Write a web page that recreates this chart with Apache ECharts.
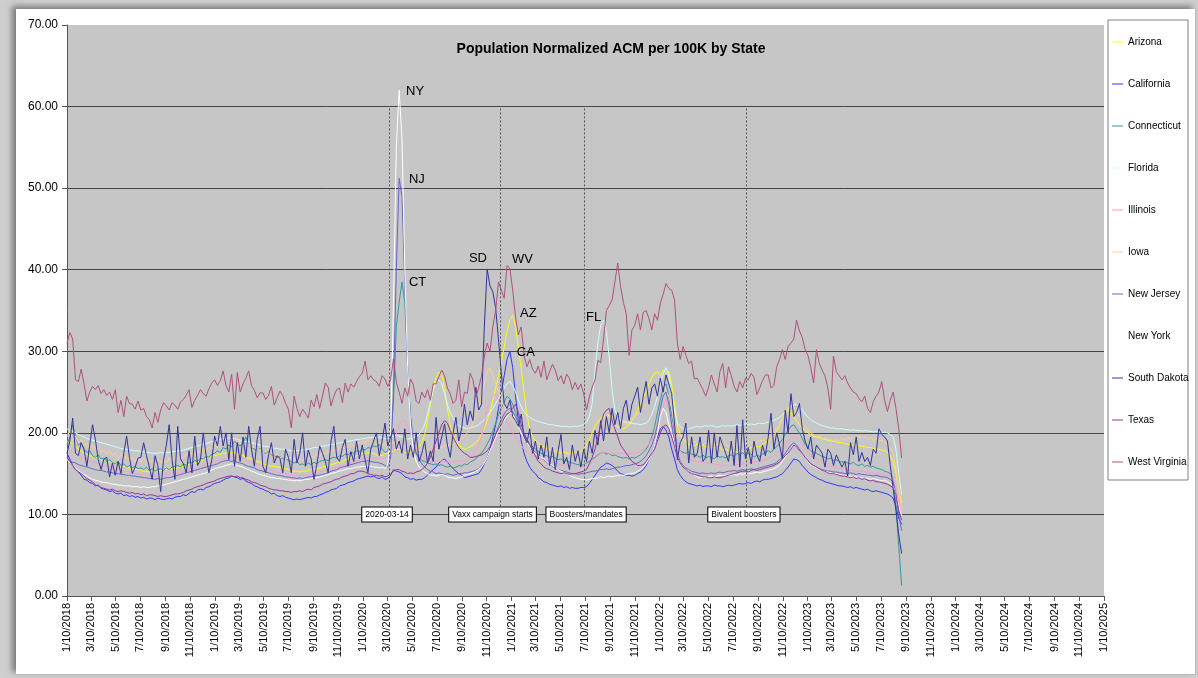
<!DOCTYPE html>
<html>
<head>
<meta charset="utf-8">
<script src="https://cdn.jsdelivr.net/npm/echarts@6/dist/echarts.min.js"></script>
<style>
  html, body { margin: 0; padding: 0; background: #cfcfcf; overflow: hidden; }
  #frame { position: absolute; left: 16px; top: 9px; width: 1179px; height: 665px; background: #fff;
           box-shadow: -4px -3px 6px #7a7a7a; border-right: 1px solid #bbb; border-bottom: 1px solid #bbb; }
  #chart { position: absolute; left: 0; top: 0; width: 1198px; height: 678px; }
</style>
</head>
<body>
<div id="frame"></div>
<div id="chart"></div>
<script>
// weekly samples, first one on 1/10/2018
const startDate = '2018-01-10';

const tickLabels = [
  '1/10/2018', '3/10/2018', '5/10/2018', '7/10/2018', '9/10/2018', '11/10/2018',
  '1/10/2019', '3/10/2019', '5/10/2019', '7/10/2019', '9/10/2019', '11/10/2019',
  '1/10/2020', '3/10/2020', '5/10/2020', '7/10/2020', '9/10/2020', '11/10/2020',
  '1/10/2021', '3/10/2021', '5/10/2021', '7/10/2021', '9/10/2021', '11/10/2021',
  '1/10/2022', '3/10/2022', '5/10/2022', '7/10/2022', '9/10/2022', '11/10/2022',
  '1/10/2023', '3/10/2023', '5/10/2023', '7/10/2023', '9/10/2023', '11/10/2023',
  '1/10/2024', '3/10/2024', '5/10/2024', '7/10/2024', '9/10/2024', '11/10/2024',
  '1/10/2025'
];

const states = ['Arizona', 'California', 'Connecticut', 'Florida', 'Illinois', 'Iowa',
  'New Jersey', 'New York', 'South Dakota', 'Texas', 'West Virginia'];
const colors = ['#ffff00', '#3333ff', '#339999', '#ccffff', '#ff99cc', '#ffcc99',
  '#6666cc', '#ffffff', '#333399', '#993399', '#b0507f'];

// event markers: label, date
const events = [
  ['2020-03-14', '2020-03-14'],
  ['Vaxx campaign starts', '2020-12-14'],
  ['Boosters/mandates', '2021-07-08'],
  ['Bivalent boosters', '2022-08-11']
];

// state tags: text, date, value
const tags = [
  ['NY', '2020-04-25', 61.8], ['NJ', '2020-05-02', 51.1], ['CT', '2020-05-02', 38.5],
  ['SD', '2020-09-27', 41.4], ['WV', '2021-01-11', 41.3], ['AZ', '2021-01-31', 34.6],
  ['CA', '2021-01-23', 29.8], ['FL', '2021-07-13', 34.1]
];

const arizona = [
  19.0, 18.8, 18.7, 18.4, 18.0, 17.8, 17.5, 17.4, 17.2, 17.1, 17.0, 16.9, 16.8,
  16.7, 16.6, 16.5, 16.4, 16.3, 16.2, 16.0, 15.9, 15.8, 15.7, 15.6, 15.5, 15.5,
  15.4, 15.3, 15.3, 15.2, 15.3, 15.3, 15.4, 15.4, 15.5, 15.5, 15.6, 15.6, 15.7,
  15.7, 15.8, 15.9, 16.0, 16.1, 16.2, 16.3, 16.4, 16.6, 16.7, 16.9, 17.0, 17.1,
  17.2, 17.3, 17.4, 17.5, 17.5, 17.6, 17.5, 17.6, 17.4, 17.3, 17.2, 17.0, 16.9,
  16.8, 16.6, 16.5, 16.4, 16.2, 16.1, 16.0, 15.9, 15.9, 15.8, 15.8, 15.7, 15.6,
  15.5, 15.4, 15.3, 15.3, 15.2, 15.3, 15.3, 15.4, 15.5, 15.5, 15.6, 15.7, 15.8,
  15.9, 16.0, 16.1, 16.2, 16.3, 16.4, 16.5, 16.7, 16.8, 17.0, 17.1, 17.2, 17.3,
  17.5, 17.5, 17.6, 17.4, 17.5, 17.3, 17.3, 17.2, 17.4, 17.5, 17.6, 17.8, 18.0,
  18.0, 17.8, 17.6, 17.5, 17.6, 17.8, 18.0, 18.3, 18.8, 19.8, 21.5, 23.5, 25.5,
  26.8, 27.5, 27.0, 25.5, 23.0, 21.0, 19.8, 19.0, 18.5, 18.2, 18.0, 18.1, 18.3,
  18.5, 18.8, 19.2, 19.8, 20.5, 21.5, 22.5, 24.0, 25.5, 27.0, 28.7, 30.5, 32.5,
  33.8, 34.4, 33.0, 30.5, 27.9, 25.0, 22.2, 20.5, 19.5, 19.0, 18.7, 18.5, 18.3,
  18.1, 18.0, 17.8, 17.7, 17.6, 17.5, 17.6, 17.5, 17.4, 17.5, 17.6, 17.5, 17.7,
  18.0, 18.5, 19.2, 20.0, 20.8, 21.3, 21.8, 22.0, 21.8, 22.2, 21.5, 21.0, 20.8,
  20.6, 20.5, 20.7, 21.0, 21.5, 22.0, 22.8, 23.5, 24.3, 25.0, 26.0, 26.8, 27.3,
  27.5, 27.0, 27.7, 27.3, 27.5, 26.0, 23.5, 21.0, 19.8, 19.2, 18.8, 18.6, 18.5,
  18.4, 18.6, 18.3, 18.5, 18.2, 18.4, 18.1, 18.3, 18.0, 18.2, 17.9, 18.0, 17.8,
  17.7, 17.8, 17.6, 17.8, 17.7, 17.9, 18.0, 18.2, 18.1, 18.4, 18.3, 18.6, 18.8,
  19.0, 19.3, 19.7, 20.2, 21.0, 21.8, 22.5, 22.8, 22.5, 22.0, 21.5, 21.0, 20.6,
  20.3, 20.0, 19.8, 19.6, 19.5, 19.4, 19.3, 19.2, 19.1, 19.0, 19.0, 18.9, 18.8,
  18.8, 18.7, 18.6, 18.6, 18.5, 18.5, 18.4, 18.4, 18.3, 18.2, 18.2, 18.1, 18.0,
  18.0, 17.9, 17.8, 17.6, 17.2, 16.5, 15.0, 13.0, 11.4
];
const california = [
  17.5, 16.8, 16.0, 15.5, 15.2, 14.8, 14.3, 14.2, 13.9, 13.8, 13.5, 13.6, 13.2,
  13.1, 13.0, 12.8, 12.9, 12.6, 12.5, 12.6, 12.3, 12.4, 12.2, 12.3, 12.1, 12.2,
  12.0, 12.1, 11.9, 12.0, 12.0, 11.8, 12.0, 11.9, 11.8, 11.9, 12.0, 11.9, 12.1,
  12.2, 12.2, 12.4, 12.3, 12.6, 12.8, 12.7, 13.0, 13.1, 13.0, 13.3, 13.4, 13.6,
  13.8, 13.9, 14.0, 14.2, 14.4, 14.5, 14.7, 14.6, 14.5, 14.3, 14.4, 14.1, 13.9,
  13.8, 13.5, 13.4, 13.2, 13.1, 12.9, 12.8, 12.5, 12.6, 12.3, 12.2, 12.3, 12.1,
  12.0, 11.9, 11.8, 11.9, 11.8, 11.9, 12.0, 12.1, 12.0, 12.2, 12.2, 12.4, 12.5,
  12.7, 12.8, 13.0, 13.1, 13.2, 13.5, 13.6, 13.7, 13.9, 14.0, 14.1, 14.3, 14.4,
  14.5, 14.6, 14.7, 14.6, 14.7, 14.5, 14.4, 14.6, 14.3, 14.4, 14.8, 15.5, 15.3,
  15.2, 15.0, 14.6, 14.5, 14.3, 14.4, 14.2, 14.3, 14.3, 14.5, 14.8, 15.2, 15.5,
  15.8, 16.3, 16.6, 16.8, 16.4, 16.0, 15.6, 15.3, 15.0, 14.8, 14.5, 14.6, 14.7,
  14.8, 14.9, 15.0, 15.5, 16.2, 17.0, 18.0, 19.5, 21.0, 23.0, 25.0, 27.0, 29.0,
  30.0, 28.0, 24.5, 21.5, 19.0, 17.5, 16.5, 15.8, 15.3, 15.0, 14.5, 14.3, 14.0,
  13.9, 13.7, 13.6, 13.5, 13.4, 13.5, 13.3, 13.4, 13.2, 13.3, 13.2, 13.2, 13.3,
  13.3, 13.4, 13.8, 14.3, 14.8, 15.3, 15.8, 16.0, 16.3, 16.2, 16.0, 15.7, 15.3,
  15.0, 14.9, 14.8, 14.8, 14.7, 14.8, 15.0, 15.2, 15.5, 16.0, 16.8, 17.5, 18.5,
  19.5, 20.5, 20.8, 20.3, 19.5, 18.0, 16.8, 15.5, 14.8, 14.3, 14.0, 13.8, 13.7,
  13.6, 13.5, 13.6, 13.4, 13.5, 13.5, 13.4, 13.6, 13.5, 13.5, 13.4, 13.5, 13.6,
  13.5, 13.6, 13.7, 13.8, 13.7, 13.8, 13.9, 13.8, 14.0, 14.1, 14.0, 14.2, 14.3,
  14.3, 14.4, 14.5, 14.6, 14.8, 15.0, 15.4, 15.8, 16.3, 16.8, 16.7, 16.5, 16.0,
  15.6, 15.2, 14.9, 14.7, 14.5, 14.3, 14.2, 14.0, 13.9, 13.8, 13.7, 13.6, 13.5,
  13.5, 13.4, 13.3, 13.4, 13.2, 13.3, 13.2, 13.1, 13.0, 13.1, 12.9, 12.8, 12.9,
  12.8, 12.7, 12.6, 12.5, 12.3, 12.0, 11.0, 9.5, 8.8
];
const connecticut = [
  18.5, 19.5, 21.0, 19.5, 18.5, 18.8, 18.0, 17.6, 17.8, 17.2, 17.0, 17.3, 16.8,
  16.9, 16.5, 16.7, 16.4, 16.2, 16.5, 16.0, 16.2, 15.8, 16.0, 15.7, 15.9, 15.6,
  15.7, 15.5, 15.8, 15.4, 15.6, 15.3, 15.5, 15.6, 15.4, 15.7, 15.5, 15.8, 15.9,
  16.0, 15.8, 16.2, 16.0, 16.4, 16.3, 16.6, 16.5, 16.9, 16.8, 17.1, 17.0, 17.4,
  17.5, 17.8, 17.6, 18.2, 18.0, 18.5, 18.3, 19.0, 18.6, 18.4, 18.8, 19.5, 18.5,
  18.2, 18.0, 17.8, 18.1, 17.6, 17.5, 17.7, 17.3, 17.2, 17.0, 17.1, 16.8, 16.9,
  16.6, 16.5, 16.3, 16.5, 16.1, 16.2, 16.0, 16.3, 16.1, 16.4, 16.2, 16.5, 16.6,
  16.7, 16.6, 16.9, 17.0, 16.9, 17.2, 17.1, 17.4, 17.3, 17.6, 17.5, 17.8, 17.7,
  18.0, 17.9, 18.2, 18.1, 18.4, 18.3, 18.6, 18.0, 17.6, 17.8, 19.0, 24.0, 33.0,
  36.0, 38.5, 36.0, 28.0, 22.0, 19.0, 17.5, 17.0, 16.6, 16.5, 16.3, 16.2, 16.1,
  16.2, 16.0, 16.1, 15.9, 15.8, 15.9, 15.7, 15.8, 16.0, 15.9, 16.2, 16.1, 16.4,
  16.6, 16.8, 17.2, 17.5, 18.0, 18.6, 19.3, 20.2, 21.2, 22.2, 23.0, 23.8, 24.5,
  24.2, 23.5, 22.5, 21.5, 20.5, 19.8, 19.2, 18.7, 18.3, 18.0, 17.7, 17.5, 17.3,
  17.2, 17.0, 17.1, 16.9, 16.7, 16.8, 16.5, 16.6, 16.4, 16.3, 16.2, 16.1, 16.0,
  16.1, 16.3, 16.5, 16.8, 17.0, 17.3, 17.5, 17.6, 17.4, 17.5, 17.2, 17.3, 17.1,
  17.0, 16.9, 17.0, 16.8, 17.0, 16.9, 17.1, 17.3, 17.6, 18.0, 18.6, 19.5, 20.8,
  22.5, 24.0, 25.5, 26.0, 24.5, 22.0, 20.0, 18.5, 17.8, 17.6, 17.5, 17.7, 17.4,
  17.3, 17.2, 17.0, 17.3, 16.9, 17.1, 17.0, 16.8, 17.2, 17.0, 17.1, 16.9, 17.2,
  17.3, 17.1, 17.5, 17.3, 17.6, 17.2, 17.5, 17.4, 17.0, 17.3, 17.1, 17.4, 17.6,
  17.8, 17.6, 18.0, 18.3, 18.7, 19.2, 19.8, 20.3, 20.8, 21.0, 20.5, 20.0, 19.3,
  18.6, 18.2, 17.8, 17.6, 17.5, 17.3, 17.1, 17.0, 16.8, 16.9, 16.6, 16.7, 16.5,
  16.4, 16.5, 16.3, 16.2, 16.4, 16.1, 16.0, 16.2, 15.9, 16.0, 15.8, 15.9, 15.7,
  15.6, 15.5, 15.3, 15.2, 15.0, 14.5, 11.0, 6.0, 1.3
];
const florida = [
  20.5, 20.3, 20.2, 20.0, 19.8, 19.6, 19.5, 19.3, 19.2, 19.1, 19.0, 18.9, 18.8,
  18.7, 18.6, 18.5, 18.4, 18.3, 18.2, 18.1, 18.0, 18.0, 17.9, 17.9, 17.8, 17.8,
  17.7, 17.7, 17.6, 17.6, 17.5, 17.5, 17.5, 17.6, 17.5, 17.6, 17.6, 17.7, 17.7,
  17.8, 17.8, 17.9, 18.0, 18.1, 18.2, 18.3, 18.4, 18.5, 18.6, 18.7, 18.8, 18.9,
  19.0, 19.1, 19.2, 19.3, 19.3, 19.4, 19.3, 19.3, 19.2, 19.1, 19.0, 18.9, 18.9,
  18.8, 18.7, 18.6, 18.5, 18.4, 18.3, 18.3, 18.2, 18.1, 18.1, 18.0, 18.0, 17.9,
  17.9, 17.8, 17.8, 17.8, 17.9, 17.9, 18.0, 18.0, 18.1, 18.2, 18.2, 18.3, 18.4,
  18.4, 18.5, 18.6, 18.6, 18.7, 18.8, 18.8, 18.9, 19.0, 19.0, 19.1, 19.2, 19.2,
  19.3, 19.3, 19.4, 19.4, 19.5, 19.4, 19.5, 19.4, 19.3, 19.3, 19.4, 19.6, 19.7,
  19.6, 19.5, 19.3, 19.2, 19.3, 19.4, 19.5, 19.8, 20.3, 21.0, 22.3, 23.8, 25.2,
  26.2, 26.5, 26.0, 24.8, 23.5, 22.5, 21.8, 21.2, 20.9, 20.7, 20.6, 20.5, 20.6,
  20.7, 20.8, 21.0, 21.3, 21.6, 22.0, 22.5, 23.0, 23.6, 24.2, 24.8, 25.5, 26.0,
  26.3, 25.8, 25.0, 24.0, 23.2, 22.6, 22.2, 21.9, 21.7, 21.5, 21.4, 21.3, 21.2,
  21.1, 21.0, 21.0, 20.9, 20.9, 20.8, 20.8, 20.8, 20.7, 20.8, 20.8, 20.8, 20.9,
  21.0, 21.3, 22.0, 23.6, 27.7, 31.0, 33.2, 33.8, 32.4, 29.3, 25.3, 22.8, 22.0,
  21.6, 21.4, 21.3, 21.2, 21.2, 21.1, 21.1, 21.0, 21.1, 21.2, 21.5, 22.3, 23.2,
  24.5, 26.0, 27.2, 28.0, 27.0, 24.8, 22.8, 21.2, 20.8, 20.5, 20.4, 20.5, 20.6,
  20.7, 20.8, 20.7, 20.8, 20.9, 20.8, 20.9, 20.8, 20.7, 20.8, 20.9, 20.8, 20.9,
  20.8, 20.9, 21.0, 20.9, 21.0, 21.1, 21.0, 21.1, 21.0, 21.1, 21.2, 21.1, 21.2,
  21.3, 21.4, 21.5, 21.7, 21.9, 22.2, 22.6, 22.9, 23.2, 23.4, 23.5, 23.2, 22.8,
  22.3, 21.9, 21.6, 21.4, 21.2, 21.0, 20.9, 20.8, 20.7, 20.6, 20.6, 20.5, 20.5,
  20.5, 20.4, 20.4, 20.3, 20.4, 20.3, 20.3, 20.2, 20.3, 20.2, 20.2, 20.1, 20.2,
  20.1, 20.0, 20.1, 20.0, 19.8, 19.5, 18.0, 15.0, 12.4
];
const illinois = [
  18.0, 17.9, 17.7, 17.5, 17.3, 17.1, 16.9, 16.7, 16.6, 16.4, 16.3, 16.2, 16.1,
  16.0, 15.9, 15.8, 15.7, 15.6, 15.5, 15.4, 15.3, 15.3, 15.2, 15.1, 15.0, 15.0,
  14.9, 14.9, 14.8, 14.8, 14.8, 14.7, 14.8, 14.8, 14.8, 14.9, 14.9, 15.0, 15.0,
  15.1, 15.2, 15.2, 15.3, 15.4, 15.5, 15.6, 15.8, 15.9, 16.0, 16.2, 16.3, 16.4,
  16.5, 16.6, 16.7, 16.8, 16.9, 17.0, 17.0, 17.1, 17.0, 16.9, 16.8, 16.7, 16.5,
  16.4, 16.2, 16.1, 15.9, 15.8, 15.6, 15.5, 15.4, 15.3, 15.2, 15.1, 15.0, 15.0,
  14.9, 14.9, 14.8, 14.8, 14.8, 14.8, 14.8, 14.9, 14.9, 15.0, 15.1, 15.2, 15.3,
  15.4, 15.5, 15.6, 15.7, 15.8, 15.9, 16.0, 16.1, 16.2, 16.3, 16.4, 16.6, 16.7,
  16.8, 16.9, 17.0, 17.0, 16.9, 16.9, 16.8, 16.8, 16.9, 17.0, 17.5, 18.5, 19.8,
  21.0, 21.5, 21.5, 20.8, 20.0, 19.0, 18.0, 17.4, 17.0, 16.8, 16.6, 16.5, 16.5,
  16.4, 16.5, 16.6, 16.5, 16.4, 16.5, 16.4, 16.5, 16.6, 16.5, 16.6, 16.7, 16.9,
  17.2, 17.8, 18.5, 19.5, 21.0, 23.0, 24.0, 24.5, 24.8, 24.0, 23.0, 22.0, 21.3,
  20.7, 20.0, 19.5, 19.0, 18.5, 18.0, 17.7, 17.4, 17.2, 17.0, 16.9, 16.8, 16.7,
  16.6, 16.5, 16.4, 16.3, 16.2, 16.1, 16.0, 16.0, 15.9, 15.9, 15.8, 15.8, 15.8,
  15.8, 15.9, 16.1, 16.4, 16.8, 17.2, 17.5, 17.6, 17.6, 17.5, 17.5, 17.4, 17.5,
  17.5, 17.4, 17.5, 17.4, 17.5, 17.5, 17.6, 17.8, 18.0, 18.3, 18.6, 19.2, 20.0,
  21.0, 22.5, 23.5, 24.0, 23.0, 21.5, 19.5, 18.5, 17.8, 17.2, 17.0, 16.8, 16.7,
  16.6, 16.5, 16.5, 16.4, 16.3, 16.3, 16.2, 16.2, 16.1, 16.1, 16.0, 16.0, 16.0,
  16.0, 16.1, 16.1, 16.2, 16.2, 16.3, 16.3, 16.4, 16.4, 16.5, 16.5, 16.6, 16.7,
  16.8, 17.0, 17.2, 17.5, 17.8, 18.2, 18.7, 19.0, 19.4, 19.6, 19.4, 19.0, 18.5,
  18.0, 17.6, 17.2, 17.0, 16.7, 16.5, 16.3, 16.1, 16.0, 15.9, 15.8, 15.7, 15.6,
  15.6, 15.5, 15.5, 15.4, 15.4, 15.3, 15.3, 15.3, 15.2, 15.2, 15.1, 15.1, 15.0,
  15.0, 15.0, 14.9, 14.8, 14.7, 14.5, 13.0, 11.5, 10.0
];
const iowa = [
  19.5, 20.3, 19.0, 19.6, 18.7, 19.2, 18.4, 18.8, 18.0, 18.5, 17.8, 18.2, 17.6,
  17.9, 17.4, 17.8, 17.2, 17.5, 16.9, 17.3, 16.8, 17.1, 16.6, 17.0, 16.5, 16.9,
  16.5, 16.8, 16.3, 16.7, 16.4, 16.2, 16.8, 16.4, 16.6, 16.3, 16.9, 16.6, 17.0,
  16.8, 17.2, 16.9, 17.4, 17.1, 17.6, 17.3, 17.8, 17.5, 18.1, 17.8, 18.3, 18.0,
  18.5, 18.3, 18.8, 18.6, 19.2, 18.8, 19.4, 19.0, 19.3, 18.7, 19.0, 18.4, 18.6,
  18.1, 18.3, 17.8, 18.0, 17.5, 17.8, 17.3, 17.6, 17.1, 17.4, 16.9, 17.2, 16.8,
  17.0, 16.6, 16.9, 16.4, 16.8, 16.5, 17.0, 16.7, 17.2, 16.9, 17.4, 17.1, 17.6,
  17.3, 17.8, 17.5, 18.0, 17.7, 18.3, 18.0, 18.5, 18.2, 18.7, 18.4, 18.9, 18.6,
  19.0, 18.7, 19.2, 18.8, 19.0, 18.6, 18.9, 18.5, 18.8, 18.4, 18.7, 18.9, 18.5,
  18.6, 18.2, 18.5, 18.0, 18.3, 17.9, 18.1, 17.8, 18.0, 17.7, 18.0, 17.8, 18.1,
  18.0, 18.3, 18.1, 18.5, 18.3, 18.7, 18.5, 18.9, 19.0, 19.3, 19.5, 20.0, 20.5,
  21.2, 22.0, 23.0, 24.5, 26.0, 27.5, 28.0, 27.0, 26.0, 25.0, 24.0, 23.2, 22.5,
  22.0, 21.5, 21.0, 20.5, 19.8, 19.3, 19.0, 18.7, 18.5, 18.6, 18.3, 18.4, 18.1,
  18.2, 17.9, 18.1, 17.8, 18.0, 17.6, 17.8, 17.5, 17.7, 17.4, 17.6, 17.5, 17.7,
  17.8, 18.2, 18.0, 18.6, 18.8, 19.2, 19.5, 19.9, 20.2, 20.0, 20.5, 20.8, 20.6,
  21.0, 21.3, 21.0, 21.5, 21.8, 22.0, 22.3, 22.6, 23.0, 23.4, 23.8, 24.3, 24.7,
  25.0, 25.5, 26.0, 25.2, 24.5, 23.0, 21.5, 20.0, 19.5, 19.2, 19.0, 19.3, 18.9,
  19.0, 18.6, 18.9, 18.5, 18.8, 18.4, 18.7, 18.3, 18.6, 18.4, 18.7, 18.5, 18.3,
  18.6, 18.4, 18.7, 18.5, 18.8, 18.6, 18.9, 18.7, 19.0, 18.8, 19.2, 19.0, 19.3,
  19.5, 19.8, 20.2, 20.6, 21.0, 21.8, 22.5, 23.0, 23.5, 23.2, 22.6, 22.0, 21.4,
  20.8, 20.4, 20.0, 19.8, 19.5, 19.6, 19.3, 19.4, 19.1, 19.3, 19.0, 19.2, 19.0,
  19.3, 19.1, 19.4, 19.2, 19.5, 19.3, 19.6, 19.4, 19.5, 19.2, 19.4, 19.1, 19.3,
  19.0, 19.1, 18.8, 18.5, 18.2, 17.5, 15.5, 13.0, 10.5
];
const newJersey = [
  16.8, 16.6, 16.4, 16.3, 16.1, 16.0, 15.9, 15.8, 15.7, 15.6, 15.5, 15.4, 15.4,
  15.3, 15.2, 15.2, 15.1, 15.0, 15.0, 14.9, 14.9, 14.8, 14.8, 14.7, 14.7, 14.6,
  14.6, 14.5, 14.5, 14.4, 14.4, 14.3, 14.4, 14.3, 14.4, 14.5, 14.5, 14.6, 14.7,
  14.8, 14.9, 15.0, 15.1, 15.2, 15.3, 15.4, 15.5, 15.6, 15.7, 15.8, 15.9, 16.0,
  16.1, 16.2, 16.4, 16.5, 16.6, 16.6, 16.5, 16.6, 16.4, 16.3, 16.2, 16.0, 15.9,
  15.8, 15.7, 15.5, 15.4, 15.3, 15.2, 15.1, 15.0, 14.9, 14.8, 14.8, 14.7, 14.6,
  14.6, 14.5, 14.5, 14.4, 14.5, 14.4, 14.5, 14.6, 14.6, 14.7, 14.8, 14.8, 14.9,
  15.0, 15.1, 15.3, 15.4, 15.5, 15.7, 15.8, 15.9, 16.0, 16.1, 16.2, 16.3, 16.4,
  16.5, 16.5, 16.6, 16.5, 16.4, 16.4, 16.3, 16.2, 16.0, 15.8, 17.0, 25.0, 40.0,
  51.2, 49.0, 38.0, 28.0, 22.0, 19.0, 17.5, 16.8, 16.2, 15.8, 15.5, 15.3, 15.2,
  15.0, 15.1, 15.0, 14.9, 15.0, 14.9, 14.8, 14.9, 15.0, 15.0, 15.1, 15.1, 15.2,
  15.3, 15.4, 15.6, 15.9, 16.3, 17.0, 17.8, 18.8, 19.8, 20.8, 21.6, 22.3, 22.8,
  23.0, 22.6, 22.0, 21.2, 20.3, 19.5, 19.0, 18.5, 18.0, 17.6, 17.3, 17.0, 16.7,
  16.4, 16.1, 15.9, 15.7, 15.5, 15.4, 15.3, 15.2, 15.1, 15.0, 15.0, 14.9, 15.0,
  15.0, 15.1, 15.2, 15.3, 15.3, 15.4, 15.5, 15.5, 15.6, 15.5, 15.6, 15.7, 15.8,
  15.8, 15.9, 16.0, 16.0, 16.1, 16.2, 16.3, 16.5, 16.8, 17.2, 17.8, 18.5, 19.5,
  21.0, 23.0, 24.5, 25.0, 23.5, 21.0, 18.8, 17.5, 16.5, 16.0, 15.7, 15.5, 15.3,
  15.2, 15.1, 15.0, 15.1, 15.0, 15.0, 15.1, 15.0, 15.1, 15.2, 15.1, 15.2, 15.3,
  15.3, 15.4, 15.3, 15.4, 15.5, 15.4, 15.5, 15.6, 15.5, 15.6, 15.7, 15.8, 15.9,
  16.0, 16.1, 16.2, 16.4, 16.7, 17.0, 17.5, 18.0, 18.5, 18.8, 18.5, 18.0, 17.5,
  17.0, 16.6, 16.2, 16.0, 15.8, 15.6, 15.5, 15.4, 15.3, 15.3, 15.2, 15.2, 15.1,
  15.1, 15.0, 15.0, 15.1, 15.0, 14.9, 15.0, 14.9, 14.9, 14.8, 14.8, 14.7, 14.8,
  14.7, 14.6, 14.6, 14.5, 14.3, 14.0, 12.5, 10.0, 8.0
];
const newYork = [
  16.7, 16.4, 16.0, 15.7, 15.4, 15.1, 14.9, 14.7, 14.5, 14.3, 14.2, 14.1, 14.0,
  13.9, 13.9, 13.8, 13.7, 13.7, 13.6, 13.6, 13.5, 13.5, 13.5, 13.4, 13.4, 13.4,
  13.3, 13.4, 13.3, 13.3, 13.4, 13.4, 13.5, 13.5, 13.6, 13.7, 13.8, 13.9, 14.0,
  14.1, 14.2, 14.3, 14.4, 14.5, 14.6, 14.7, 14.8, 14.9, 15.0, 15.1, 15.3, 15.4,
  15.6, 15.7, 15.8, 15.9, 16.0, 16.1, 16.2, 16.1, 16.0, 15.9, 15.8, 15.6, 15.5,
  15.3, 15.2, 15.0, 14.9, 14.8, 14.7, 14.6, 14.5, 14.5, 14.4, 14.4, 14.3, 14.3,
  14.2, 14.2, 14.1, 14.2, 14.1, 14.2, 14.3, 14.3, 14.4, 14.5, 14.5, 14.6, 14.7,
  14.8, 14.9, 15.0, 15.1, 15.2, 15.3, 15.4, 15.5, 15.6, 15.6, 15.7, 15.8, 15.8,
  15.9, 15.9, 16.0, 15.9, 15.8, 15.8, 15.7, 15.8, 15.6, 16.0, 20.0, 36.0, 55.0,
  62.0, 56.0, 40.0, 28.0, 21.0, 18.0, 16.5, 15.8, 15.5, 15.2, 15.0, 14.8, 14.8,
  14.7, 14.8, 14.9, 14.8, 14.6, 14.5, 14.5, 14.4, 14.5, 14.6, 14.8, 14.9, 15.0,
  15.1, 15.3, 15.5, 15.8, 16.3, 17.0, 17.8, 18.6, 19.5, 20.3, 21.0, 21.5, 22.0,
  22.5, 22.3, 21.5, 20.8, 20.0, 19.3, 18.8, 18.3, 17.8, 17.5, 17.2, 17.0, 16.8,
  16.5, 16.2, 16.0, 15.8, 15.5, 15.3, 15.1, 15.0, 14.8, 14.6, 14.5, 14.4, 14.3,
  14.3, 14.2, 14.3, 14.4, 14.4, 14.5, 14.6, 14.5, 14.6, 14.7, 14.6, 14.7, 14.8,
  14.8, 14.8, 14.9, 15.0, 15.0, 15.1, 15.3, 15.5, 15.8, 16.2, 16.8, 17.5, 18.5,
  20.0, 22.0, 23.0, 22.5, 21.0, 20.0, 18.5, 17.0, 16.3, 15.8, 15.5, 15.2, 15.0,
  14.8, 14.6, 14.5, 14.6, 14.5, 14.6, 14.7, 14.6, 14.7, 14.8, 14.7, 14.8, 14.8,
  14.8, 14.9, 14.8, 15.0, 14.9, 15.0, 15.1, 15.0, 15.1, 15.2, 15.1, 15.2, 15.3,
  15.4, 15.5, 15.6, 15.8, 16.0, 16.5, 17.0, 17.5, 18.0, 18.5, 18.3, 17.8, 17.5,
  17.0, 16.5, 16.1, 15.9, 15.7, 15.5, 15.4, 15.3, 15.2, 15.1, 15.0, 15.0, 14.9,
  14.8, 14.8, 14.7, 14.7, 14.6, 14.6, 14.5, 14.5, 14.4, 14.5, 14.3, 14.4, 14.3,
  14.2, 14.1, 14.2, 14.0, 13.8, 13.5, 12.5, 11.0, 9.8
];
const southDakota = [
  17.5, 19.0, 21.8, 17.5, 17.2, 18.8, 18.0, 15.9, 18.5, 21.0, 19.2, 16.7, 15.5,
  16.8, 17.0, 14.6, 16.3, 14.8, 16.5, 15.0, 17.5, 19.6, 17.0, 15.0, 15.8, 16.9,
  17.0, 18.8, 17.2, 15.8, 14.3, 17.2, 16.0, 12.8, 16.7, 18.5, 21.0, 16.7, 14.3,
  20.8, 16.8, 16.2, 15.1, 17.8, 15.1, 19.6, 16.0, 16.7, 20.0, 17.2, 15.1, 16.7,
  19.6, 18.4, 20.8, 18.4, 20.0, 16.7, 20.0, 15.9, 18.8, 16.5, 19.5, 17.0, 20.8,
  18.0, 15.9, 19.2, 20.8, 15.9, 15.1, 17.3, 18.8, 16.3, 17.2, 16.9, 15.1, 18.0,
  17.0, 15.1, 19.2, 16.3, 17.5, 20.0, 15.9, 17.9, 16.8, 14.3, 16.1, 18.4, 17.5,
  16.5, 15.1, 19.0, 20.8, 17.0, 16.5, 18.2, 19.2, 15.9, 17.7, 16.5, 19.0, 16.8,
  18.5, 16.7, 15.1, 18.0, 19.0, 20.0, 17.2, 19.0, 21.2, 18.4, 19.5, 20.5, 18.0,
  19.0, 17.5, 20.5, 16.8, 18.5, 17.0, 20.0, 16.5, 17.5, 19.0, 16.3, 17.8, 16.5,
  21.9, 18.0, 19.5, 21.1, 18.5, 17.0, 20.0, 21.9, 19.0, 20.5, 23.5, 21.0, 22.7,
  21.5, 25.6, 22.8, 23.5, 33.0, 40.1, 38.0, 37.3, 35.3, 31.4, 27.3, 23.6, 23.0,
  24.0, 22.0, 21.5, 20.8, 22.3, 19.5, 18.8, 20.5, 17.5, 19.0, 16.8, 18.5, 17.0,
  19.5, 16.0, 18.2, 15.5, 17.8, 19.8, 16.2, 17.0, 15.5, 18.5, 16.5, 17.8, 15.8,
  18.0, 16.5, 19.0, 17.5, 20.3, 18.5, 21.5, 19.0, 22.0, 20.0, 23.0, 21.0, 22.5,
  20.5, 23.0, 24.0, 21.5, 23.5, 24.5, 25.6, 22.5, 24.5, 26.3, 23.5, 25.5, 26.0,
  24.5, 26.7, 25.0, 27.1, 26.0, 24.8, 21.2, 16.7, 18.8, 19.5, 21.2, 16.3, 19.5,
  17.0, 17.5, 19.5, 16.5, 17.0, 20.3, 16.3, 20.0, 17.0, 19.5, 18.5, 17.5, 16.5,
  19.0, 16.0, 20.9, 15.8, 21.6, 16.8, 18.2, 16.2, 19.0, 17.3, 16.5, 18.5, 17.2,
  19.5, 22.4, 18.0, 20.0, 18.5, 16.8, 22.8, 20.0, 24.8, 22.0, 22.5, 23.6, 20.5,
  19.0, 18.0, 19.5, 16.8, 18.5, 18.0, 17.5, 15.8, 18.0, 17.5, 16.0, 17.3, 16.5,
  15.8, 16.5, 14.7, 18.8, 17.3, 19.5, 16.5, 17.6, 16.5, 17.0, 16.0, 18.0, 17.5,
  20.5, 19.8, 19.5, 19.0, 16.0, 13.2, 10.5, 7.5, 5.2
];
const texas = [
  17.0, 16.5, 16.0, 15.5, 15.2, 15.0, 14.7, 14.4, 14.2, 14.0, 13.6, 13.5, 13.3,
  13.2, 13.1, 13.0, 13.1, 12.9, 12.8, 12.9, 12.8, 12.7, 12.6, 12.7, 12.5, 12.6,
  12.4, 12.5, 12.3, 12.4, 12.4, 12.3, 12.2, 12.3, 12.2, 12.2, 12.3, 12.4, 12.5,
  12.5, 12.6, 12.7, 12.9, 13.0, 13.1, 13.3, 13.4, 13.5, 13.6, 13.8, 13.9, 14.0,
  14.1, 14.3, 14.4, 14.5, 14.6, 14.7, 14.7, 14.6, 14.7, 14.5, 14.5, 14.3, 14.2,
  14.0, 13.9, 13.8, 13.6, 13.5, 13.4, 13.2, 13.1, 13.0, 13.0, 12.9, 12.9, 12.8,
  12.8, 12.7, 12.8, 12.8, 12.9, 12.8, 13.0, 13.1, 13.0, 13.3, 13.4, 13.5, 13.7,
  13.8, 13.9, 14.0, 14.2, 14.3, 14.4, 14.6, 14.7, 14.8, 15.0, 15.0, 15.2, 15.3,
  15.3, 15.2, 15.0, 14.9, 14.8, 14.8, 14.7, 14.8, 14.6, 14.7, 15.0, 15.3, 15.5,
  15.5, 15.3, 15.2, 15.0, 15.1, 15.0, 15.2, 15.3, 15.5, 15.8, 16.3, 17.0, 18.0,
  19.0, 20.0, 21.0, 21.5, 21.2, 20.3, 19.5, 18.8, 18.2, 17.8, 17.5, 17.3, 17.0,
  17.0, 17.1, 17.2, 17.3, 17.5, 17.8, 18.3, 19.0, 19.8, 20.5, 21.0, 21.8, 22.3,
  22.5, 23.0, 23.5, 22.5, 21.0, 20.0, 19.2, 18.5, 17.8, 17.2, 16.5, 16.2, 15.8,
  15.6, 15.5, 15.3, 15.2, 15.1, 15.0, 15.1, 15.0, 14.9, 15.0, 15.0, 15.1, 15.2,
  15.3, 15.5, 16.2, 17.0, 18.0, 19.5, 21.0, 22.3, 22.8, 23.0, 21.5, 20.5, 19.5,
  18.5, 18.0, 17.5, 17.0, 16.5, 16.3, 16.0, 16.0, 16.1, 16.5, 17.0, 17.5, 18.0,
  19.0, 20.0, 20.7, 21.0, 20.5, 19.5, 18.3, 17.0, 16.3, 15.8, 15.5, 15.2, 15.0,
  14.9, 14.8, 14.7, 14.6, 14.6, 14.5, 14.5, 14.6, 14.5, 14.5, 14.6, 14.7, 14.8,
  14.9, 15.0, 15.1, 15.2, 15.3, 15.3, 15.2, 15.4, 15.5, 15.4, 15.5, 15.6, 15.7,
  15.8, 15.9, 16.0, 16.2, 16.4, 16.8, 17.2, 17.5, 18.0, 18.5, 18.3, 17.8, 17.5,
  17.0, 16.6, 16.2, 16.0, 15.8, 15.6, 15.4, 15.3, 15.1, 15.0, 15.0, 14.9, 14.8,
  14.7, 14.7, 14.6, 14.5, 14.6, 14.4, 14.5, 14.3, 14.4, 14.2, 14.1, 14.2, 14.0,
  14.0, 13.9, 13.8, 13.7, 13.5, 13.3, 12.5, 10.5, 9.3
];
const westVirginia = [
  31.0, 32.3, 31.5, 26.5, 26.3, 27.8, 26.0, 23.9, 25.0, 25.7, 25.3, 25.8, 24.8,
  25.3, 24.6, 25.0, 24.1, 25.3, 22.5, 24.0, 22.0, 24.5, 23.6, 23.5, 22.9, 23.9,
  22.8, 23.0, 22.0, 21.6, 20.6, 22.5, 21.3, 22.8, 23.7, 23.3, 22.8, 23.7, 23.4,
  22.9, 23.8, 24.1, 24.6, 25.3, 23.1, 24.0, 24.6, 25.3, 24.8, 24.5, 25.4, 26.1,
  26.5, 25.8, 26.4, 27.6, 25.8, 25.0, 27.2, 22.9, 27.4, 25.0, 26.0, 26.7, 27.6,
  25.8, 25.2, 24.3, 24.9, 24.9, 24.1, 24.6, 25.7, 23.4, 24.3, 25.1, 24.6, 23.6,
  22.9, 20.6, 24.5, 23.0, 22.0, 22.9, 22.4, 21.8, 24.0, 23.2, 24.7, 23.0, 24.5,
  26.1, 25.6, 23.3, 24.5, 25.3, 25.5, 23.7, 26.1, 25.0, 26.0, 25.6, 26.3, 26.9,
  27.3, 28.8, 26.5, 27.0, 26.5, 26.3, 25.7, 27.0, 26.6, 25.7, 26.5, 29.1, 26.2,
  25.0, 23.6, 25.5, 24.5, 26.6, 25.9, 23.9, 23.6, 25.0, 24.3, 25.3, 24.0, 26.0,
  26.0, 26.9, 27.7, 27.0, 25.5, 24.8, 23.6, 24.0, 26.5, 23.2, 25.0, 24.8, 27.3,
  26.5, 24.4, 25.5, 27.0, 29.3, 31.0, 30.0, 33.0, 35.0, 38.5, 37.5, 36.5, 40.5,
  40.2, 37.5, 34.2, 32.0, 33.0, 29.5, 28.1, 29.0, 27.8, 27.3, 28.2, 26.8, 28.8,
  26.5, 27.5, 28.4, 27.7, 26.4, 27.0, 26.0, 27.2, 26.7, 25.3, 26.2, 25.3, 26.0,
  24.8, 22.8, 24.4, 25.6, 26.5, 28.9, 28.6, 31.5, 35.0, 35.6, 36.3, 38.5, 40.8,
  37.9, 36.0, 34.6, 29.5, 32.6, 33.2, 34.6, 32.6, 34.8, 35.0, 34.0, 32.6, 34.6,
  33.8, 35.9, 37.0, 38.3, 37.7, 37.5, 36.3, 31.0, 29.0, 30.6, 29.5, 28.5, 28.8,
  26.6, 26.7, 26.0, 25.3, 24.5, 25.6, 27.1, 26.0, 25.0, 27.5, 28.5, 25.5, 28.1,
  27.0, 25.7, 25.0, 26.3, 25.5, 26.7, 26.5, 27.3, 26.8, 24.7, 25.5, 26.4, 27.1,
  27.1, 25.5, 25.8, 28.1, 29.0, 30.2, 29.0, 30.6, 31.0, 31.5, 33.8, 32.5, 31.7,
  30.2, 29.5, 28.0, 26.1, 30.2, 28.5, 27.7, 27.0, 25.5, 22.9, 29.4, 27.5, 27.0,
  26.5, 27.0, 26.1, 25.5, 25.0, 24.8, 24.2, 23.8, 24.5, 23.0, 22.5, 23.8, 24.5,
  25.0, 26.3, 24.0, 22.6, 24.0, 25.0, 23.0, 20.5, 16.9
];

const stateValues = [arizona, california, connecticut, florida, illinois, iowa,
  newJersey, newYork, southDakota, texas, westVirginia];

// days since the first sample
const t0 = Date.UTC(2018, 0, 10);
function dayOf(s) {
  let y, m, d;
  if (s.indexOf('/') > 0) { [m, d, y] = s.split('/').map(Number); }
  else { [y, m, d] = s.split('-').map(Number); }
  return Math.round((Date.UTC(y, m - 1, d) - t0) / 86400000);
}
const startDay = dayOf(startDate);
const tickDays = tickLabels.map(dayOf);
const tickName = {};
tickDays.forEach((d, i) => { tickName[d] = tickLabels[i]; });

const font = '"Liberation Sans", Arial, sans-serif';
// small nudges so the event boxes sit like the original
const boxShift = [-2, -8, 2, -2];

const series = states.map((name, i) => ({
  name: name,
  type: 'line',
  symbol: 'none',
  silent: true,
  lineStyle: {width: 1, color: colors[i]},
  itemStyle: {color: colors[i]},
  data: stateValues[i].map((v, w) => [startDay + w * 7, v])
}));

// markers ride on the first series
series[0].markLine = {
  symbol: 'none',
  silent: true,
  label: {show: false},
  lineStyle: {color: '#555', type: [2, 2], width: 1},
  data: events.map(e => [{coord: [dayOf(e[1]), 10]}, {coord: [dayOf(e[1]), 60]}])
};
series[0].markPoint = {
  symbol: 'rect',
  symbolSize: 1,
  silent: true,
  itemStyle: {color: 'rgba(0,0,0,0)'},
  data: events.map((e, i) => ({
    coord: [dayOf(e[1]), 10],
    label: {
      show: true, position: 'inside', formatter: e[0], color: '#000',
      offset: [boxShift[i], 0],
      fontSize: 8.5, fontFamily: font, backgroundColor: '#fff',
      borderColor: '#000', borderWidth: 1, padding: [3, 3, 2, 3]
    }
  })).concat(tags.map(t => ({
    coord: [dayOf(t[1]), t[2]],
    label: {
      show: true, position: 'inside', align: 'left', verticalAlign: 'middle',
      formatter: t[0], color: '#000', fontSize: 13, fontFamily: font
    }
  })))
};

const chart = echarts.init(document.getElementById('chart'));
chart.setOption({
  animation: false,
  backgroundColor: 'transparent',
  title: {
    text: 'Population Normalized ACM per 100K by State',
    left: 606, top: 37, textAlign: 'center',
    textStyle: {fontSize: 14, fontWeight: 'bold', color: '#000', fontFamily: font}
  },
  legend: {
    data: states,
    orient: 'vertical',
    left: 1107, top: 31,
    itemGap: 30, itemWidth: 11, itemHeight: 1,
    icon: 'rect',
    selectedMode: false,
    textStyle: {fontSize: 10, color: '#000', fontFamily: font, lineHeight: 12}
  },
  graphic: [{
    type: 'rect', z: 0,
    shape: {x: 1108, y: 20, width: 80, height: 460},
    style: {fill: '#fff', stroke: '#808080', lineWidth: 1}
  }],
  grid: {
    left: 67, right: 94, top: 25, bottom: 82,
    show: true, backgroundColor: '#c6c6c6', borderWidth: 0
  },
  xAxis: {
    type: 'value',
    min: 0,
    max: tickDays[tickDays.length - 1],
    splitLine: {show: false},
    axisLine: {lineStyle: {color: '#555'}},
    axisTick: {show: true, length: 5, customValues: tickDays, lineStyle: {color: '#555'}},
    axisLabel: {
      customValues: tickDays, rotate: 90, margin: 7,
      fontSize: 11, color: '#000', fontFamily: font,
      formatter: v => tickName[Math.round(v)] || ''
    }
  },
  yAxis: {
    type: 'value',
    min: 0, max: 70, interval: 10,
    axisLine: {show: true, lineStyle: {color: '#555'}},
    axisTick: {show: true, length: 5, lineStyle: {color: '#555'}},
    axisLabel: {
      fontSize: 12, color: '#000', fontFamily: font, margin: 9,
      formatter: v => v.toFixed(2)
    },
    splitLine: {showMaxLine: false, lineStyle: {color: '#444', width: 1}}
  },
  series: series
});
</script>
</body>
</html>
